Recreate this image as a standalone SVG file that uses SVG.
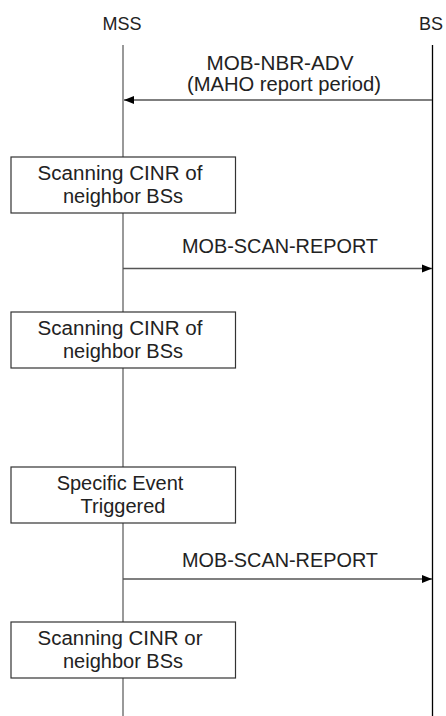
<svg xmlns="http://www.w3.org/2000/svg" width="446" height="716" viewBox="0 0 446 716">
<defs>
<marker id="ah" markerWidth="10" markerHeight="10" refX="10" refY="5" orient="auto" markerUnits="userSpaceOnUse">
<path d="M0,1 L10,5 L0,9 Z" fill="#000"/>
</marker>
</defs>
<style>
.t{font-family:"Liberation Sans",Arial,sans-serif;font-size:20px;fill:#222;text-anchor:middle}
.h{font-family:"Liberation Sans",Arial,sans-serif;font-size:18px;fill:#222;text-anchor:middle}
.box{fill:#fff;stroke:#333;stroke-width:1.2}
.msg{stroke:#555;stroke-width:1.3;fill:none;marker-end:url(#ah)}
</style>
<rect width="446" height="716" fill="#fff"/>
<g id="lifelines">
<line x1="123" y1="45" x2="123" y2="716" stroke="#777" stroke-width="1.5"/>
<line x1="432.5" y1="45" x2="432.5" y2="716" stroke="#000" stroke-width="1.3"/>
</g>
<g id="MSS"><text class="h" x="122" y="30">MSS</text></g>
<g id="BS"><text class="h" x="431" y="30">BS</text></g>
<g id="connectors">
<line class="msg" x1="432" y1="100" x2="124" y2="100"/>
<text class="t" x="280" y="70" textLength="147" lengthAdjust="spacingAndGlyphs">MOB-NBR-ADV</text>
<text class="t" x="284" y="91" textLength="194" lengthAdjust="spacingAndGlyphs">(MAHO report period)</text>
<line class="msg" x1="123" y1="268.5" x2="432" y2="268.5"/>
<text class="t" x="280" y="253" textLength="196" lengthAdjust="spacingAndGlyphs">MOB-SCAN-REPORT</text>
<line class="msg" x1="123" y1="579" x2="432" y2="579"/>
<text class="t" x="280" y="567" textLength="196" lengthAdjust="spacingAndGlyphs">MOB-SCAN-REPORT</text>
</g>
<g id="scan1">
<rect class="box" x="11" y="157" width="224.5" height="56"/>
<text class="t" x="120" y="180" textLength="165" lengthAdjust="spacingAndGlyphs">Scanning CINR of</text>
<text class="t" x="123" y="203">neighbor BSs</text>
</g>
<g id="scan2">
<rect class="box" x="11" y="312" width="224.5" height="56"/>
<text class="t" x="120" y="335" textLength="165" lengthAdjust="spacingAndGlyphs">Scanning CINR of</text>
<text class="t" x="123" y="358">neighbor BSs</text>
</g>
<g id="event">
<rect class="box" x="11" y="467" width="224.5" height="56"/>
<text class="t" x="120" y="490">Specific Event</text>
<text class="t" x="123" y="513">Triggered</text>
</g>
<g id="scan3">
<rect class="box" x="11" y="622" width="224.5" height="56"/>
<text class="t" x="120" y="645" textLength="165" lengthAdjust="spacingAndGlyphs">Scanning CINR or</text>
<text class="t" x="123" y="668">neighbor BSs</text>
</g>
</svg>
